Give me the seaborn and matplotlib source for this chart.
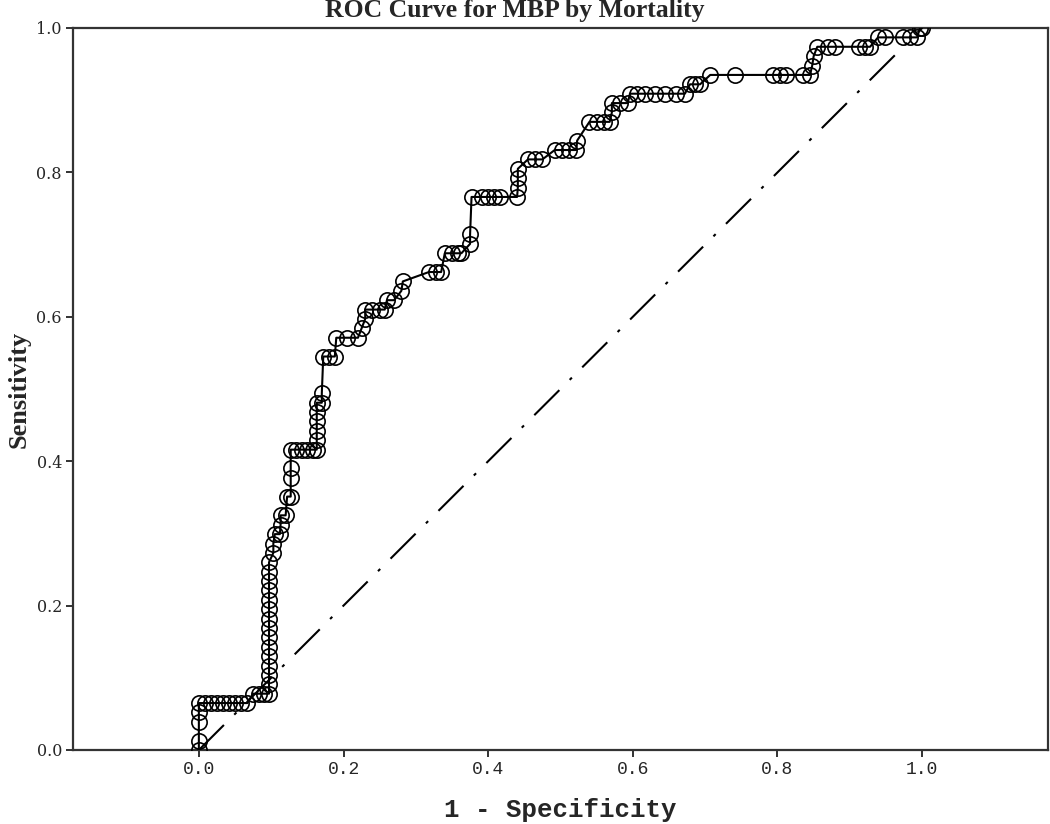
import matplotlib
matplotlib.use("Agg")
import matplotlib.pyplot as plt
import seaborn as sns
import pandas as pd
import numpy as np

# ROC curve points (1 - specificity, sensitivity)
fpr = [0.000, 0.000, 0.000, 0.000, 0.000,
       0.008, 0.017, 0.025, 0.033, 0.042, 0.050, 0.058, 0.067,
       0.075, 0.083, 0.090, 0.097,
       0.097, 0.097, 0.097, 0.097, 0.097, 0.097, 0.097, 0.097, 0.097, 0.097, 0.097, 0.097, 0.097, 0.097,
       0.103, 0.103, 0.105, 0.112, 0.113, 0.113, 0.120, 0.122, 0.127, 0.127, 0.127, 0.127,
       0.135, 0.142, 0.150, 0.158, 0.163,
       0.163, 0.163, 0.163, 0.163, 0.163, 0.170, 0.170,
       0.172, 0.180, 0.188, 0.190, 0.205, 0.220, 0.225, 0.230, 0.230,
       0.240, 0.250, 0.257, 0.260, 0.270, 0.280, 0.282,
       0.318, 0.328, 0.335, 0.340, 0.350, 0.358, 0.363,
       0.375, 0.375, 0.377, 0.392, 0.400, 0.408, 0.416, 0.440,
       0.441, 0.441, 0.441, 0.455, 0.465, 0.475,
       0.492, 0.502, 0.512, 0.522, 0.523,
       0.540, 0.550, 0.560, 0.568, 0.571, 0.571, 0.582, 0.593,
       0.596, 0.606, 0.617, 0.630, 0.645, 0.660, 0.672,
       0.679, 0.686, 0.693,
       0.707, 0.741, 0.794, 0.803, 0.812, 0.835, 0.845, 0.848,
       0.850, 0.855, 0.870, 0.880, 0.913, 0.921, 0.928,
       0.939, 0.949, 0.974, 0.983, 0.993, 0.997, 1.000]
tpr = [0.000, 0.013, 0.039, 0.052, 0.065,
       0.065, 0.065, 0.065, 0.065, 0.065, 0.065, 0.065, 0.065,
       0.078, 0.078, 0.078, 0.078,
       0.091, 0.104, 0.117, 0.130, 0.143, 0.156, 0.169, 0.182, 0.195, 0.208, 0.221, 0.234, 0.247, 0.260,
       0.273, 0.286, 0.299, 0.299, 0.312, 0.325, 0.325, 0.351, 0.351, 0.377, 0.390, 0.416,
       0.416, 0.416, 0.416, 0.416, 0.416,
       0.429, 0.442, 0.455, 0.468, 0.481, 0.481, 0.494,
       0.545, 0.545, 0.545, 0.571, 0.571, 0.571, 0.584, 0.597, 0.610,
       0.610, 0.610, 0.610, 0.623, 0.623, 0.636, 0.649,
       0.662, 0.662, 0.662, 0.688, 0.688, 0.688, 0.688,
       0.701, 0.714, 0.766, 0.766, 0.766, 0.766, 0.766, 0.766,
       0.779, 0.792, 0.805, 0.818, 0.818, 0.818,
       0.831, 0.831, 0.831, 0.831, 0.844,
       0.870, 0.870, 0.870, 0.870, 0.883, 0.896, 0.896, 0.896,
       0.909, 0.909, 0.909, 0.909, 0.909, 0.909, 0.909,
       0.922, 0.922, 0.922,
       0.935, 0.935, 0.935, 0.935, 0.935, 0.935, 0.935, 0.948,
       0.961, 0.974, 0.974, 0.974, 0.974, 0.974, 0.974,
       0.987, 0.987, 0.987, 0.987, 0.987, 1.000, 1.000]

ref_x = [0.0, 1.0]
ref_y = [0.0, 1.0]

x_ticks = [0.0, 0.2, 0.4, 0.6, 0.8, 1.0]
y_ticks = [0.0, 0.2, 0.4, 0.6, 0.8, 1.0]

title = "ROC Curve for MBP by Mortality"
xlabel = "1 - Specificity"
ylabel = "Sensitivity"

sns.set_style("ticks")
plt.rcParams["font.family"] = ["DejaVu Sans"]

df = pd.DataFrame({"fpr": fpr, "tpr": tpr, "order": np.arange(len(fpr))})
ref = pd.DataFrame({"x": ref_x, "y": ref_y})

fig = plt.figure(figsize=(10.5, 8.24), dpi=100)
ax = fig.add_axes([73 / 1050, 74 / 824, (1048 - 73) / 1050, (750 - 28) / 824])

sns.lineplot(data=df, x="fpr", y="tpr", sort=False, estimator=None, ax=ax,
             color="black", linewidth=1.5, marker="o", markersize=11,
             markerfacecolor="none", markeredgecolor="black", markeredgewidth=1.2,
             zorder=3)
sns.lineplot(data=ref, x="x", y="y", sort=False, estimator=None, ax=ax,
             color="black", linewidth=1.5, dashes=False, zorder=2)
ax.lines[-1].set_dashes((17, 7, 1.5, 7))

ax.set_xlim(-0.174, 1.174)
ax.set_ylim(0.0, 1.0)
ax.set_xticks(x_ticks)
ax.set_yticks(y_ticks)
ax.set_xticklabels([f"{v:.1f}" for v in x_ticks], family="Liberation Mono", fontsize=13)
ax.set_yticklabels([f"{v:.1f}" for v in y_ticks], family="DejaVu Serif", fontsize=11.5)
ax.tick_params(direction="out", length=5, width=1.3, color="#222222", pad=3)

for s in ax.spines.values():
    s.set_visible(True)
    s.set_linewidth(1.6)
    s.set_color("#333333")

ax.set_xlabel(xlabel, family="Liberation Mono", fontweight="bold", fontsize=18.5, labelpad=14)
ax.set_ylabel(ylabel, family="Liberation Serif", fontweight="bold", fontsize=19, labelpad=4)
fig.text(515 / 1050, 1 - 10 / 824, title, family="Liberation Serif", fontweight="bold",
         fontsize=18.5, ha="center", va="center")

fig.savefig("out.png", dpi=100, facecolor="white")
